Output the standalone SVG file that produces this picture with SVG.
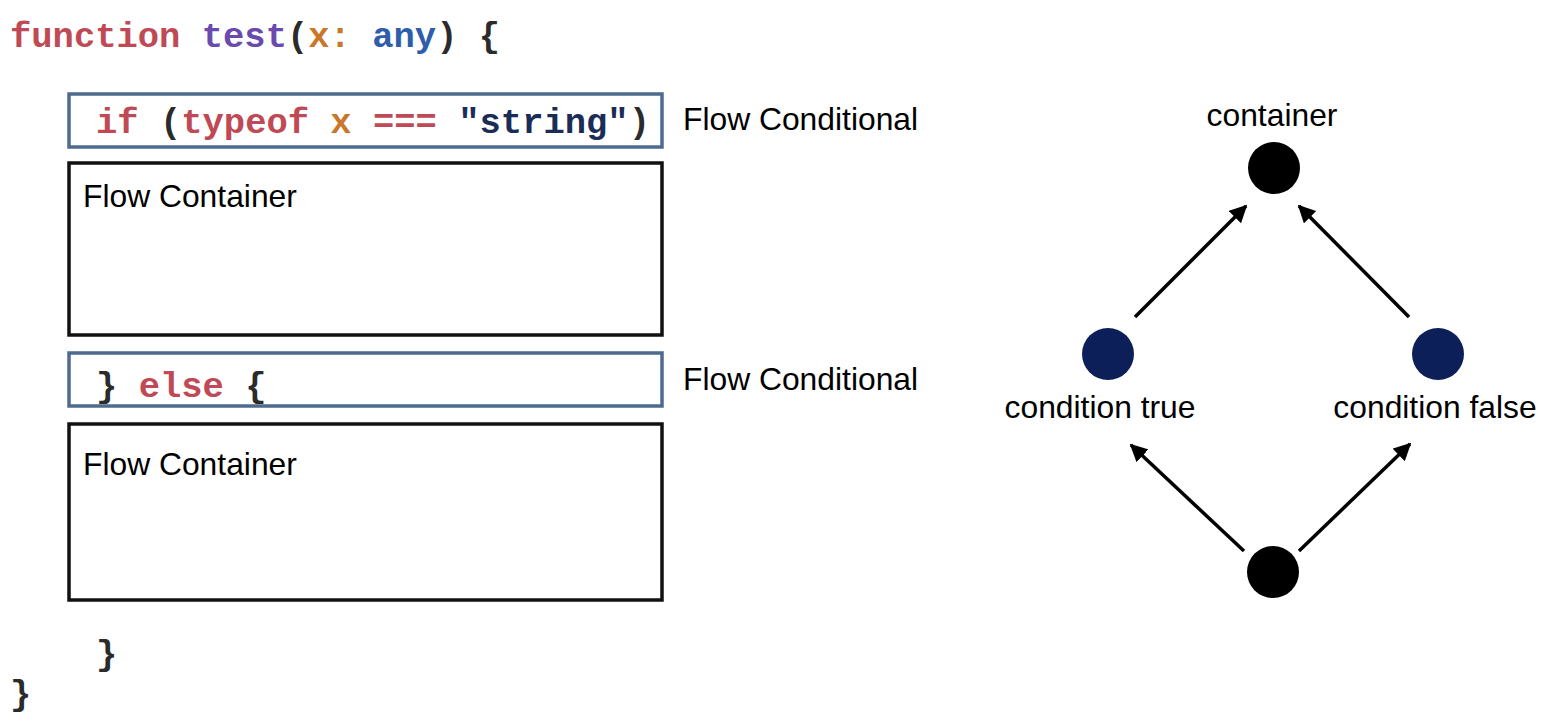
<svg xmlns="http://www.w3.org/2000/svg" width="1550" height="724" viewBox="0 0 1550 724">
<style>
.code{font-family:"Liberation Mono","DejaVu Sans Mono",monospace;font-size:35.5px;font-weight:bold;white-space:pre}
.kw{fill:#bf4a55}.fn{fill:#6b4aae}.pr{fill:#2b2b2b}.vr{fill:#c9772b}.ty{fill:#2e5dac}.st{fill:#1b2d57}
.lbl{font-family:"Liberation Sans",Arial,sans-serif;font-size:31.8px;fill:#000}
.cond{fill:none;stroke:#4d6b8e;stroke-width:3.5}
.cont{fill:none;stroke:#111;stroke-width:3.5}
.edge{stroke:#000;stroke-width:3.5;fill:none;marker-end:url(#ah)}
</style>
<defs>
<marker id="ah" viewBox="0 0 10 10" refX="9" refY="5" markerWidth="5" markerHeight="5" orient="auto" markerUnits="strokeWidth">
<path d="M0,0 L10,5 L0,10 z" fill="#000"/>
</marker>
</defs>
<rect width="1550" height="724" fill="#fff"/>
<g id="code">
<text class="code" x="10" y="47" xml:space="preserve"><tspan class="kw">function</tspan><tspan class="pr"> </tspan><tspan class="fn">test</tspan><tspan class="pr">(</tspan><tspan class="vr">x:</tspan><tspan class="pr"> </tspan><tspan class="ty">any</tspan><tspan class="pr">) {</tspan></text>
<text class="code pr" x="96" y="665">}</text>
<text class="code pr" x="10" y="705">}</text>
</g>
<g id="cond1">
<rect class="cond" x="69" y="94" width="593" height="53"/>
<text class="code" x="96" y="133" xml:space="preserve"><tspan class="kw">if</tspan><tspan class="pr"> (</tspan><tspan class="kw">typeof</tspan><tspan class="pr"> </tspan><tspan class="vr">x</tspan><tspan class="pr"> </tspan><tspan class="kw">===</tspan><tspan class="pr"> </tspan><tspan class="st">"string"</tspan><tspan class="pr">)</tspan></text>
<text class="lbl" x="683" y="130">Flow Conditional</text>
</g>
<g id="cont1">
<rect class="cont" x="69" y="163" width="593" height="172"/>
<text class="lbl" x="83" y="207">Flow Container</text>
</g>
<g id="cond2">
<rect class="cond" x="69" y="353" width="593" height="53"/>
<text class="code" x="96" y="397" xml:space="preserve"><tspan class="pr">}</tspan><tspan class="pr"> </tspan><tspan class="kw">else</tspan><tspan class="pr"> {</tspan></text>
<text class="lbl" x="683" y="390">Flow Conditional</text>
</g>
<g id="cont2">
<rect class="cont" x="69" y="424" width="593" height="176"/>
<text class="lbl" x="83" y="475">Flow Container</text>
</g>
<g id="connectors">
<line class="edge" x1="1135" y1="317" x2="1246" y2="206"/>
<line class="edge" x1="1409" y1="317" x2="1299" y2="206"/>
<line class="edge" x1="1244" y1="551" x2="1131" y2="445"/>
<line class="edge" x1="1299" y1="551" x2="1410" y2="444"/>
</g>
<g id="n-container">
<circle cx="1274" cy="168" r="26" fill="#000"/>
<text class="lbl" x="1272" y="126" text-anchor="middle">container</text>
</g>
<g id="n-true">
<circle cx="1108" cy="354" r="26" fill="#0c1f58"/>
<text class="lbl" x="1100" y="418" text-anchor="middle">condition true</text>
</g>
<g id="n-false">
<circle cx="1438" cy="354" r="26" fill="#0c1f58"/>
<text class="lbl" x="1435" y="418" text-anchor="middle">condition false</text>
</g>
<g id="n-root">
<circle cx="1273" cy="572" r="26" fill="#000"/>
</g>
</svg>
